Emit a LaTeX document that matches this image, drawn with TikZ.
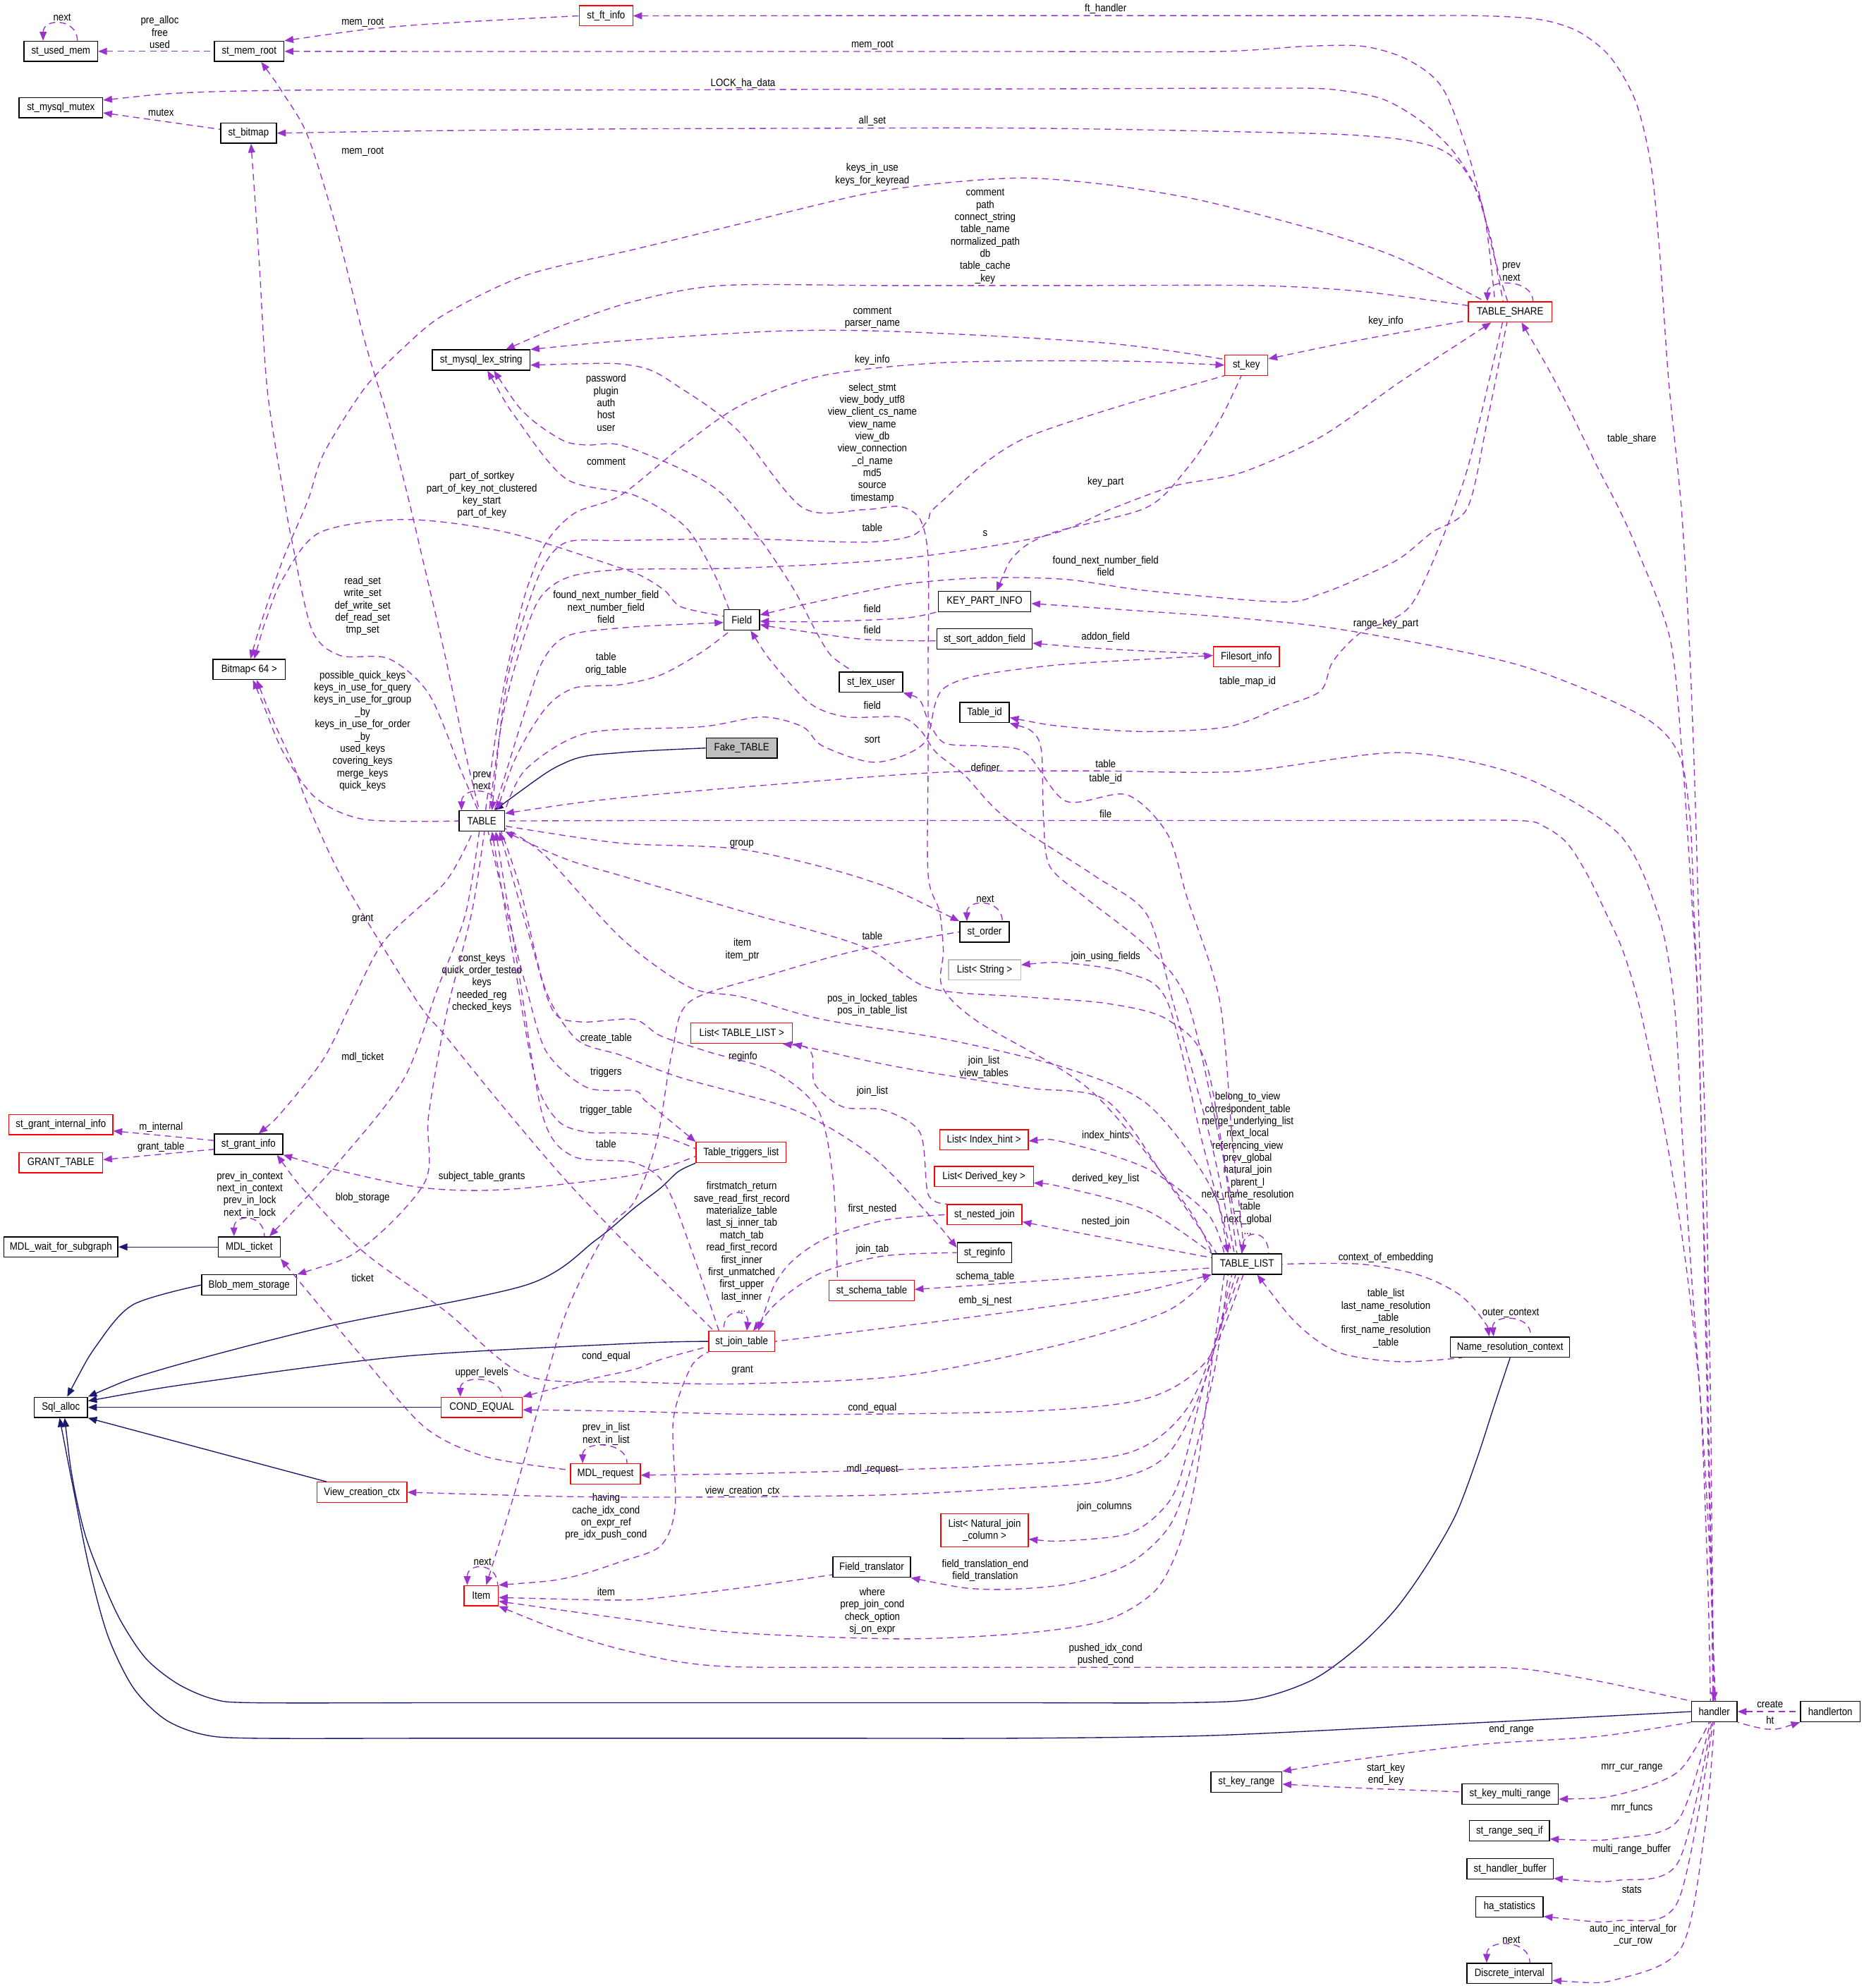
\documentclass[tikz,border=0pt]{standalone}
\usepackage{fontspec}
\setmainfont{Liberation Sans}[FakeStretch=0.88]
\usetikzlibrary{arrows.meta}
\definecolor{depc}{HTML}{9A32CD}
\definecolor{inhc}{HTML}{191970}
\definecolor{grayc}{HTML}{BFBFBF}
\newcommand\fs{\fontsize{8.4}{9.65}\selectfont}
\begin{document}
\begin{tikzpicture}[x=1pt,y=-1pt,
  box/.style={draw=black,line width=0.8pt,rectangle,minimum height=16pt,inner sep=0pt,font=\fs},
  rbox/.style={box,draw=red,line width=0.7pt},
  gbox/.style={box,draw=grayc},
  lbl/.style={font=\fs,align=center,inner sep=0pt},
  dep/.style={draw=depc,dash pattern=on 5pt off 3.5pt,line width=0.75pt,{Triangle[length=7pt,width=5.5pt]}-},
  inh/.style={draw=inhc,line width=0.75pt,{Triangle[length=7pt,width=5.5pt]}-},
]
\fill[white] (0,0) rectangle (1470,1568);
\useasboundingbox (0,0) rectangle (1470,1568);

% ---------------- nodes ----------------
\node[box, minimum width=58pt] (usedmem) at (48,40.5) {st\_used\_mem};
\node[box, minimum width=55pt] (memroot) at (196.5,40.5) {st\_mem\_root};
\node[rbox, minimum width=42pt] (ftinfo) at (478,12.5) {st\_ft\_info};
\node[box, minimum width=66pt] (mutex) at (48,85) {st\_mysql\_mutex};
\node[box, minimum width=44pt] (bitmap) at (196,105) {st\_bitmap};
\node[box, minimum width=77pt] (lexstr) at (379.5,284) {st\_mysql\_lex\_string};
\node[rbox, minimum width=34pt] (stkey) at (983,288) {st\_key};
\node[rbox, minimum width=66pt] (share) at (1191,246) {TABLE\_SHARE};
\node[box, minimum width=57pt] (bitmap64) at (196.5,528) {Bitmap< 64 >};
\node[box, minimum width=73pt] (kpi) at (776.5,474.5) {KEY\_PART\_INFO};
\node[box, minimum width=28pt] (field) at (585,489) {Field};
\node[box, minimum width=75pt] (addon) at (776.5,504) {st\_sort\_addon\_field};
\node[rbox, minimum width=52pt] (filesort) at (983,518) {Filesort\_info};
\node[box, minimum width=50pt] (lexuser) at (687,538) {st\_lex\_user};
\node[box, minimum width=39pt] (tableid) at (776.5,562) {Table\_id};
\node[box, fill=grayc, minimum width=56pt] (fake) at (585,590) {Fake\_TABLE};
\node[box, minimum width=36pt] (table) at (380,647.5) {TABLE};
\node[box, minimum width=39pt] (order) at (776.5,735) {st\_order};
\node[gbox, minimum width=57pt] (liststr) at (776.5,765) {List< String >};
\node[rbox, minimum width=80pt] (listtl) at (585,815) {List< TABLE\_LIST >};
\node[rbox, minimum width=70pt] (listih) at (776,899) {List< Index\_hint >};
\node[rbox, minimum width=78pt] (listdk) at (776,928) {List< Derived\_key >};
\node[rbox, minimum width=59pt] (nested) at (776.5,958) {st\_nested\_join};
\node[box, minimum width=43pt] (reginfo) at (776.5,988) {st\_reginfo};
\node[rbox, minimum width=67pt] (schema) at (687.5,1018) {st\_schema\_table};
\node[rbox, minimum width=52pt] (jointab) at (585,1058) {st\_join\_table};
\node[box, minimum width=55pt] (tlist) at (983.5,997) {TABLE\_LIST};
\node[box, minimum width=54pt] (grant) at (196,902.5) {st\_grant\_info};
\node[rbox, minimum width=82pt] (grantint) at (48,887) {st\_grant\_internal\_info};
\node[rbox, minimum width=66pt] (granttab) at (48,917) {GRANT\_TABLE};
\node[rbox, minimum width=71pt] (trig) at (584.5,909) {Table\_triggers\_list};
\node[box, minimum width=90pt] (mdlwait) at (48,983.5) {MDL\_wait\_for\_subgraph};
\node[box, minimum width=49pt] (mdlticket) at (196.5,983.5) {MDL\_ticket};
\node[box, minimum width=75pt] (blob) at (196.5,1013.5) {Blob\_mem\_storage};
\node[box, minimum width=42pt] (sqlalloc) at (48,1110) {Sql\_alloc};
\node[rbox, minimum width=64pt] (condeq) at (380,1110) {COND\_EQUAL};
\node[rbox, minimum width=55pt] (mdlreq) at (477.5,1162.5) {MDL\_request};
\node[rbox, minimum width=71pt] (viewctx) at (285.5,1177) {View\_creation\_ctx};
\node[rbox, minimum width=69pt, minimum height=26pt, align=center] (listnj) at (776.5,1207) {List< Natural\_join\\\_column >};
\node[box, minimum width=61pt] (ftrans) at (687.5,1236) {Field\_translator};
\node[rbox, minimum width=27pt] (item) at (379.5,1258.5) {Item};
\node[box, minimum width=94pt] (nrc) at (1191,1062.5) {Name\_resolution\_context};
\node[box, minimum width=36pt] (handler) at (1352,1350) {handler};
\node[box, minimum width=47pt] (hton) at (1443.5,1350) {handlerton};
\node[box, minimum width=56pt] (keyrange) at (983,1405.5) {st\_key\_range};
\node[box, minimum width=76pt] (kmr) at (1191,1415) {st\_key\_multi\_range};
\node[box, minimum width=63pt] (rangeseq) at (1190.5,1444) {st\_range\_seq\_if};
\node[box, minimum width=68pt] (hbuf) at (1191,1474) {st\_handler\_buffer};
\node[box, minimum width=53pt] (hastats) at (1190.5,1504) {ha\_statistics};
\node[box, minimum width=67pt] (discrete) at (1190.5,1556.5) {Discrete\_interval};

% ---------------- labels ----------------
\node[lbl] (l1) at (49,13.5) {next};
\node[lbl] (l2) at (126,25.5) {pre\_alloc\\free\\used};
\node[lbl] (l3) at (286,17.6) {mem\_root};
\node[lbl] (l4) at (872,7) {ft\_handler};
\node[lbl] (l5) at (688,35.5) {mem\_root};
\node[lbl] (l6) at (586,66) {LOCK\_ha\_data};
\node[lbl] (l7) at (127,89) {mutex};
\node[lbl] (l8) at (688,95.2) {all\_set};
\node[lbl] (l9) at (286,119.5) {mem\_root};
\node[lbl] (l10) at (688,137.8) {keys\_in\_use\\keys\_for\_keyread};
\node[lbl] (l11) at (777,186.4) {comment\\path\\connect\_string\\table\_name\\normalized\_path\\db\\table\_cache\\\_key};
\node[lbl] (l12) at (1192,214.5) {prev\\next};
\node[lbl] (l13) at (688,250.8) {comment\\parser\_name};
\node[lbl] (l14) at (1093,253.3) {key\_info};
\node[lbl] (l15) at (688,284) {key\_info};
\node[lbl] (l16) at (478,317.7) {password\\plugin\\auth\\host\\user};
\node[lbl] (l17) at (688,349.5) {select\_stmt\\view\_body\_utf8\\view\_client\_cs\_name\\view\_name\\view\_db\\view\_connection\\\_cl\_name\\md5\\source\\timestamp};
\node[lbl] (l18) at (1287,346.5) {table\_share};
\node[lbl] (l19) at (478,364) {comment};
\node[lbl] (l20) at (380,390.5) {part\_of\_sortkey\\part\_of\_key\_not\_clustered\\key\_start\\part\_of\_key};
\node[lbl] (l21) at (872,380.5) {key\_part};
\node[lbl] (l22) at (688,416) {table};
\node[lbl] (l23) at (777,421) {s};
\node[lbl] (l24) at (872,446.4) {found\_next\_number\_field\\field};
\node[lbl] (l25) at (286,478) {read\_set\\write\_set\\def\_write\_set\\def\_read\_set\\tmp\_set};
\node[lbl] (l26) at (478,478.7) {found\_next\_number\_field\\next\_number\_field\\field};
\node[lbl] (l27) at (688,480) {field};
\node[lbl] (l28) at (1093,492) {range\_key\_part};
\node[lbl] (l29) at (688,497) {field};
\node[lbl] (l30) at (872,502.4) {addon\_field};
\node[lbl] (l31) at (478,523.8) {table\\orig\_table};
\node[lbl] (l32) at (984,537.4) {table\_map\_id};
\node[lbl] (l33) at (688,556) {field};
\node[lbl] (l34) at (286,576.5) {possible\_quick\_keys\\keys\_in\_use\_for\_query\\keys\_in\_use\_for\_group\\\_by\\keys\_in\_use\_for\_order\\\_by\\used\_keys\\covering\_keys\\merge\_keys\\quick\_keys};
\node[lbl] (l35) at (688,583.4) {sort};
\node[lbl] (l36) at (872,602.5) {table};
\node[lbl] (l37) at (777,605) {definer};
\node[lbl] (l38) at (380,615.7) {prev\\next};
\node[lbl] (l39) at (872,614.3) {table\_id};
\node[lbl] (l40) at (872,642) {file};
\node[lbl] (l41) at (585,665.6) {group};
\node[lbl] (l42) at (777,708.8) {next};
\node[lbl] (l43) at (286,725) {grant};
\node[lbl] (l44) at (688,738) {table};
\node[lbl] (l45) at (585.5,749) {item\\item\_ptr};
\node[lbl] (l46) at (872,754.5) {join\_using\_fields};
\node[lbl] (l47) at (380,775.3) {const\_keys\\quick\_order\_tested\\keys\\needed\_reg\\checked\_keys};
\node[lbl] (l48) at (688,792.8) {pos\_in\_locked\_tables\\pos\_in\_table\_list};
\node[lbl] (l49) at (478,819) {create\_table};
\node[lbl] (l50) at (586,833.5) {reginfo};
\node[lbl] (l51) at (286,834.3) {mdl\_ticket};
\node[lbl] (l52) at (776,841.8) {join\_list\\view\_tables};
\node[lbl] (l53) at (478,845.8) {triggers};
\node[lbl] (l54) at (688,860.6) {join\_list};
\node[lbl] (l55) at (984,917.6) {belong\_to\_view\\correspondent\_table\\merge\_underlying\_list\\next\_local\\referencing\_view\\prev\_global\\natural\_join\\parent\_l\\next\_name\_resolution\\\_table\\next\_global\\...};
\node[lbl] (l56) at (478,875.6) {trigger\_table};
\node[lbl] (l57) at (127,889) {m\_internal};
\node[lbl] (l58) at (872,895.6) {index\_hints};
\node[lbl] (l59) at (478,902.4) {table};
\node[lbl] (l60) at (127,904.5) {grant\_table};
\node[lbl] (l61) at (380,928) {subject\_table\_grants};
\node[lbl] (l62) at (872,930) {derived\_key\_list};
\node[lbl] (l63) at (197,942.4) {prev\_in\_context\\next\_in\_context\\prev\_in\_lock\\next\_in\_lock};
\node[lbl] (l64) at (585,983.5) {firstmatch\_return\\save\_read\_first\_record\\materialize\_table\\last\_sj\_inner\_tab\\match\_tab\\read\_first\_record\\first\_inner\\first\_unmatched\\first\_upper\\last\_inner\\...};
\node[lbl] (l65) at (286,944.6) {blob\_storage};
\node[lbl] (l66) at (688,953.5) {first\_nested};
\node[lbl] (l67) at (872,963.7) {nested\_join};
\node[lbl] (l68) at (688,985.2) {join\_tab};
\node[lbl] (l69) at (1093,991.8) {context\_of\_embedding};
\node[lbl] (l70) at (777,1007) {schema\_table};
\node[lbl] (l71) at (286,1008) {ticket};
\node[lbl] (l72) at (777,1026) {emb\_sj\_nest};
\node[lbl] (l73) at (1191.5,1035.8) {outer\_context};
\node[lbl] (l74) at (1093,1039.9) {table\_list\\last\_name\_resolution\\\_table\\first\_name\_resolution\\\_table};
\node[lbl] (l75) at (478,1069.7) {cond\_equal};
\node[lbl] (l76) at (585.5,1081) {grant};
\node[lbl] (l77) at (380,1083) {upper\_levels};
\node[lbl] (l78) at (688,1110.6) {cond\_equal};
\node[lbl] (l79) at (478,1131) {prev\_in\_list\\next\_in\_list};
\node[lbl] (l80) at (688,1158.8) {mdl\_request};
\node[lbl] (l81) at (585.5,1176) {view\_creation\_ctx};
\node[lbl] (l82) at (478,1196.4) {having\\cache\_idx\_cond\\on\_expr\_ref\\pre\_idx\_push\_cond};
\node[lbl] (l83) at (871,1188.4) {join\_columns};
\node[lbl] (l84) at (380.6,1232) {next};
\node[lbl] (l85) at (777,1238.6) {field\_translation\_end\\field\_translation};
\node[lbl] (l86) at (478,1255.3) {item};
\node[lbl] (l87) at (688,1270.7) {where\\prep\_join\_cond\\check\_option\\sj\_on\_expr};
\node[lbl] (l88) at (872,1304.8) {pushed\_idx\_cond\\pushed\_cond};
\node[lbl] (l89) at (1396,1344) {create};
\node[lbl] (l90) at (1396,1356.7) {ht};
\node[lbl] (l91) at (1192,1364) {end\_range};
\node[lbl] (l92) at (1093,1399.5) {start\_key\\end\_key};
\node[lbl] (l93) at (1287,1394.7) {mrr\_cur\_range};
\node[lbl] (l94) at (1287,1425.8) {mrr\_funcs};
\node[lbl] (l95) at (1287,1458.5) {multi\_range\_buffer};
\node[lbl] (l96) at (1287,1490.4) {stats};
\node[lbl] (l97) at (1288,1526.4) {auto\_inc\_interval\_for\\\_cur\_row};
\node[lbl] (l98) at (1192,1530) {next};

% ---------------- self loops ----------------
\draw[dep] ([xshift=-14]usedmem.north) .. controls +(0,-18) and +(0,-18) .. ([xshift=13]usedmem.north);
\draw[dep] ([xshift=-18]share.north) .. controls +(0,-18) and +(0,-18) .. ([xshift=18]share.north);
\draw[dep] ([xshift=-16]table.north) .. controls +(0,-19) and +(0,-19) .. ([xshift=14]table.north);
\draw[dep] ([xshift=-14]order.north) .. controls +(0,-18) and +(0,-18) .. ([xshift=14]order.north);
\draw[dep] ([xshift=-12]mdlticket.north) .. controls +(0,-18) and +(0,-18) .. ([xshift=12]mdlticket.north);
\draw[dep] ([xshift=-17]condeq.north) .. controls +(0,-17) and +(0,-17) .. ([xshift=16]condeq.north);
\draw[dep] ([xshift=-18]mdlreq.north) .. controls +(0,-18) and +(0,-18) .. ([xshift=17]mdlreq.north);
\draw[dep] ([xshift=-11]item.north) .. controls +(0,-18) and +(0,-18) .. ([xshift=13]item.north);
\draw[dep] ([xshift=4]jointab.north) .. controls +(2,-18) and +(-2,-18) .. ([xshift=-14]jointab.north);
\draw[dep] ([xshift=-4]tlist.north) .. controls +(2,-19) and +(0,-19) .. ([xshift=17]tlist.north);
\draw[dep] ([xshift=-13]nrc.north) .. controls +(-2,-18) and +(2,-18) .. ([xshift=16]nrc.north);
\draw[dep] ([xshift=-18]discrete.north) .. controls +(0,-19) and +(0,-19) .. ([xshift=16]discrete.north);

% ---------------- inheritance ----------------
\draw[inh] plot[smooth,tension=.5] coordinates {([xshift=10]table.north) (447,601) (489.4,593.6) (fake.west)};
\draw[inh] (mdlwait) -- (mdlticket);
\draw[inh] plot[smooth,tension=.5] coordinates {([xshift=5]sqlalloc.north) (77,1060) (105,1029) (blob.west)};
\draw[inh] plot[smooth,tension=.5] coordinates {(sqlalloc.north east) (127.7,1080) (255.4,1046.7) (415,1013.5) (470,978) (500,953) (521,937) (535,924) (trig.south west)};
\draw[inh] plot[smooth,tension=.5] coordinates {([yshift=5]sqlalloc.east) (159.6,1090) (319,1069.7) (500.6,1059.5) (jointab.west)};
\draw[inh] (sqlalloc) -- (condeq);
\draw[inh] (sqlalloc.south east) -- ([xshift=-28]viewctx.north);
\draw[inh] plot[smooth,tension=.5] coordinates {([xshift=3]sqlalloc.south) (57.5,1168) (67,1210) (80,1245) (95,1278) (115,1308) (140,1328) (168,1340) (200,1343) (350,1343) (500,1343) (650,1343) (800,1343) (930,1343) (990,1340) (1035,1325) (1070,1300) (1100,1270) (1125,1235) (1148,1195) (1165,1150) (1178,1110) (nrc.south)};
\draw[inh] plot[smooth,tension=.5] coordinates {([xshift=-1]sqlalloc.south) (58,1175) (70,1235) (85,1290) (105,1331) (130,1356) (160,1368) (200,1371) (350,1371) (500,1371) (650,1371) (800,1371) (950,1369) (1100,1362) (1220,1356) (handler.west)};

% ---------------- collaboration (dashed) ----------------
\draw[dep] (usedmem) -- (memroot);
\draw[dep] plot[smooth,tension=.5] coordinates {(memroot.north east) (319,20.4) (ftinfo.west)};
\draw[dep] plot[smooth,tension=.5] coordinates {(memroot.east) (400,40.6) (600,40.6) (800,40.6) (960,40.6) (1030,36.5) (1075,36.5) (1110,47) (1138,70) (1160,128) (1179,204.3) ([xshift=-2]share.north)};
\draw[dep] plot[smooth,tension=.5] coordinates {(ftinfo.east) (700,12.3) (900,12.3) (1100,12.3) (1170,12.5) (1215,15.5) (1245,25) (1270,45) (1290,80) (1302,130) (1309,200) (1316,300) (1326,400) (1332,500) (1336,600) (1339,700) (1342,800) (1345,900) (1347,1000) (1349,1100) (1350,1200) (1351,1290) ([xshift=-1]handler.north)};
\draw[dep] plot[smooth,tension=.5] coordinates {([yshift=6]mutex.east) (150,73) (250,71) (450,71) (650,70.5) (850,70) (1000,69.5) (1050,70.5) (1090,78) (1120,95) (1145,118) (1162,145) (1175,185) (1181,215) ([xshift=-5.5]share.north)};
\draw[dep] ([yshift=-4]mutex.east) -- ([yshift=3]bitmap.west);
\draw[dep] plot[smooth,tension=.5] coordinates {(bitmap.east) (319,103.4) (420,102.3) (500.6,101.6) (640,101.2) (776.8,100.9) (880,102) (990,104.2) (1057.2,106) (1104,109.8) (1135.5,117.5) (1154.3,132.8) (1170,166) ([xshift=-12]share.north)};
\draw[dep] plot[smooth,tension=.5] coordinates {([xshift=9.5]memroot.south) (223.5,74) (242.7,107.3) (265,178.8) (287.4,268) (306.5,332) (322.5,395) (332,435.3) (351,517) (367,593.6) ([xshift=-2]table.north)};
\draw[dep] plot[smooth,tension=.5] coordinates {([xshift=1]bitmap64.north) (207.5,486.3) (223.5,440.4) (242.7,395) (255.4,357.5) (287.4,306.4) (319.3,273.2) (351,247.7) (415,217) (500.6,196.6) (585.2,176.2) (681,153.2) (744.8,144.3) (808.7,140.4) (872.6,145.6) (936.5,155.8) (990.1,168.5) (1050,185) (1104,204) ([xshift=-20]share.north)};
\draw[dep] plot[smooth,tension=.5] coordinates {([xshift=19.5]lexstr.north) (447,255.4) (500.6,237.5) (569.2,225.2) (700,225.2) (850,225.2) (990,225.2) (1072.9,229.8) ([yshift=5]share.west)};
\draw[dep] plot[smooth,tension=.5] coordinates {(lexstr.north east) (500.6,268.1) (617.1,261) (712.9,261.7) (872.6,270.6) ([yshift=4.6]stkey.west)};
\draw[dep] plot[smooth,tension=.5] coordinates {(stkey.west) (872.6,284.7) (744.8,286) (649,296.2) (585.2,319.2) (537.3,352.4) (489.4,390.7) (453.4,404.6) (431,427.6) (415,466) (402.3,517) (392.7,568) ([xshift=3]table.north)};
\draw[dep] plot[smooth,tension=.5] coordinates {([yshift=5]stkey.east) (1072.9,268.1) ([yshift=-6.8]share.west)};
\draw[dep] plot[smooth,tension=.5] coordinates {([xshift=-15]share.south) (1151,270.7) (1104,301.3) (1041.5,344.7) (978.9,372.8) (927,383) (879,400.4) (824.6,422.5) (713,440.4) (585.2,448) (489.4,449.3) (447,455.7) (424.6,473.6) (408.7,517) (396,568) ([xshift=6]table.north)};
\draw[dep] plot[smooth,tension=.5] coordinates {([xshift=9.5]kpi.north) (802,436.2) (830.8,420) (904,400.4) (935.8,370) (961.4,332.4) ([xshift=-4]stkey.south)};
\draw[dep] plot[smooth,tension=.5] coordinates {([xshift=8]table.north) (399,542.5) (411.8,491.4) (427.8,448) (447,427.6) (489.4,426.3) (585.2,425) (681,427.6) (719.3,422.5) (732,409.7) (740,398) (808.7,345.4) (stkey.south west)};
\draw[dep] plot[smooth,tension=.5] coordinates {([xshift=10]lexstr.south) (415,327) (443.8,347.3) (463,351) (489.4,351) (537.3,370) (569.2,389.3) (601.2,427.6) (626.7,466) (642.7,496.5) (655.4,517) ([xshift=-14]lexuser.north)};
\draw[dep] plot[smooth,tension=.5] coordinates {([xshift=5]lexstr.south) (408.7,332) (447,378) (500.6,390.7) (540,415) (562,450) ([xshift=-10]field.north)};
\draw[dep] plot[smooth,tension=.5] coordinates {([yshift=-4]lexstr.east) (500.6,288.6) (537.3,306.4) (582,339.6) (633,400.4) (681,402) (709.7,399.5) (725.7,409.7) (732,440.4) (732,520) (732,600) (732,690) (741,719) (744,750) (743,778) (770,805) (860,860) (935,950) (tlist.north west)};
\draw[dep] plot[smooth,tension=.5] coordinates {([xshift=4]bitmap64.north) (210.7,486.3) (223.5,455.7) (252.2,420) (319.3,409.7) (400,420) (489.4,448) (508.6,455.7) (524.5,466) (537.3,478.7) ([yshift=3]field.west)};
\draw[dep] plot[smooth,tension=.5] coordinates {([xshift=2]bitmap.south) (204.3,204.3) (210.7,306.4) (223.5,389.3) (229.9,425) (245.9,496.5) (268.2,517) (306.5,519.5) (338.4,547.6) (364,608.9) ([xshift=-3]table.north)};
\draw[dep] plot[smooth,tension=.5] coordinates {([xshift=3]bitmap64.south) (207.5,555.3) (223.5,593.6) (249,629.3) (287.4,646.3) (table.west)};
\draw[dep] plot[smooth,tension=.5] coordinates {([xshift=6]bitmap64.south) (214,565) (232,605) (242.7,634.4) (271.4,695.7) (328.9,789.7) (351.2,816.9) (399,875.6) (447,931.8) (500.6,988) (521.3,1008.4) ([xshift=-22]jointab.north)};
\draw[dep] plot[smooth,tension=.5] coordinates {([xshift=8]grant.north) (223.5,875.6) (255.4,834.8) (277.8,789.7) (303.3,741.7) (351.2,695.7) ([xshift=-7]table.south)};
\draw[dep] plot[smooth,tension=.5] coordinates {([xshift=16]mdlticket.north) (271.4,911.4) (319,850) (345,780) (367,721.3) ([xshift=-2]table.south)};
\draw[dep] plot[smooth,tension=.5] coordinates {(blob.north east) (287.4,982.9) (335.3,931.8) (338,880) (352,800) (372,720) ([xshift=2]table.south)};
\draw[dep] ([yshift=-5]grantint.east) -- ([yshift=3]grant.west);
\draw[dep] ([yshift=2.3]granttab.east) -- ([yshift=-4]grant.west);
\draw[dep] plot[smooth,tension=.5] coordinates {(grant.south east) (271.4,924.2) (335.3,937) (399,938.2) (500.6,926.7) ([yshift=-3]trig.west)};
\draw[dep] plot[smooth,tension=.5] coordinates {(trig.north west) (524.5,880.7) (508.6,868) (500.6,860.3) (463,857.8) (431,829.7) (415,778.6) (400,720) ([xshift=5]table.south)};
\draw[dep] plot[smooth,tension=.5] coordinates {([xshift=8]table.south) (404,750) (422,850) (440,884) (463,893) (489.4,893.5) (521.3,896) ([yshift=3]trig.west)};
\draw[dep] plot[smooth,tension=.5] coordinates {([xshift=11]table.south) (408,760) (428,880) (452,912) (500,917) (525,935) (545,985) ([xshift=-18]jointab.north)};
\draw[dep] plot[smooth,tension=.5] coordinates {([xshift=14]table.south) (418,740) (436,797) (458,806) (500,804) (521,817) (560,830) (610,845) (645,875) (657,930) ([xshift=-27]schema.north)};
\draw[dep] plot[smooth,tension=.5] coordinates {([yshift=4]reginfo.west) (732,957.4) (687.3,911.4) (626.7,875.6) (537.3,850.1) (489.4,832.2) (455,820) (430,780) (410,700) ([xshift=-3]table.south east)};
\draw[dep] plot[smooth,tension=.5] coordinates {(order.north west) (681,693.2) (585.2,670) (489.4,665) ([yshift=-4]table.east)};
\draw[dep] plot[smooth,tension=.5] coordinates {([xshift=4]item.north) (408.7,1168) (424.6,1110.6) (447,1034) (479,970.1) (500.6,947.1) (518,900) (530,830) (544,790) (610,768) (677.7,749.3) (order.west)};
\draw[dep] plot[smooth,tension=.5] coordinates {(item.north east) (447,1244.6) (489.4,1231.8) (521.3,1219) (532.5,1188.4) (531,1120) (545,1078) (jointab.south west)};
\draw[dep] plot[smooth,tension=.5] coordinates {([yshift=-1.5]item.east) (489.4,1262) (521.3,1260) (585.2,1252.3) ([yshift=-6]ftrans.west)};
\draw[dep] plot[smooth,tension=.5] coordinates {([yshift=-4.5]item.east) (500.6,1277.8) (585.2,1288) (713,1292.6) (808.7,1288) (872.6,1277.8) (910.9,1254.8) (930,1219) (942.8,1168) (955,1080) ([xshift=-18]tlist.south)};
\draw[dep] plot[smooth,tension=.5] coordinates {(item.south east) (447,1288) (489.4,1300.8) (537.3,1311) (585.2,1314.8) (700,1315) (850,1315) (1000,1315) (1130,1315) (1198,1316) (1260.8,1326) (handler.north west)};
\draw[dep] plot[smooth,tension=.5] coordinates {(viewctx.east) (489.4,1180.8) (681,1179.5) (780,1175) (872.6,1168) (920,1148) (950,1090) ([xshift=-12]tlist.south)};
\draw[dep] plot[smooth,tension=.5] coordinates {([yshift=-1]mdlreq.east) (617.1,1161.6) (776.8,1156.5) (888.5,1146.3) (936.4,1110.6) (965,1040) ([xshift=-6]tlist.south)};
\draw[dep] plot[smooth,tension=.5] coordinates {([yshift=-2]condeq.east) (489.4,1113) (617.1,1115.7) (808.7,1113.1) (904.5,1102.9) (952.4,1072.2) ([xshift=-3]tlist.south)};
\draw[dep] plot[smooth,tension=.5] coordinates {(condeq.north east) (466.2,1087.6) (500.6,1080) (521.3,1072.2) ([yshift=-4]jointab.west)};
\draw[dep] plot[smooth,tension=.5] coordinates {([xshift=-5]grant.south east) (242.7,942) (287.4,988) (351.2,1034) (415,1084.9) (500.6,1090) (585.2,1091.4) (713,1085) (840.6,1059.5) (920.5,1034) (tlist.south west)};
\draw[dep] plot[smooth,tension=.5] coordinates {([yshift=-1]mdlticket.south east) (255.4,1034) (287.4,1072.2) (335.3,1126) (383.2,1149) ([yshift=3]mdlreq.west)};
\draw[dep] plot[smooth,tension=.5] coordinates {(tlist.south west) (872.6,1023.7) (744.8,1041.6) (jointab.east)};
\draw[dep] plot[smooth,tension=.5] coordinates {([yshift=1]schema.east) (808.7,1011) ([yshift=-3]tlist.west)};
\draw[dep] plot[smooth,tension=.5] coordinates {([xshift=13]jointab.north) (617.1,1003.3) (649,977.8) (697,962.5) (nested.west)};
\draw[dep] plot[smooth,tension=.5] coordinates {([xshift=9]jointab.north) (617.1,1023.7) (649,1003.3) (697,990.6) (reginfo.west)};
\draw[dep] plot[smooth,tension=.5] coordinates {(listtl.south east) (713,842.4) (808.7,857.8) (872.6,868) (920.5,931.8) ([xshift=-24]tlist.north)};
\draw[dep] plot[smooth,tension=.5] coordinates {([xshift=-8]listtl.south east) (639.5,829.7) (642.7,855.2) (665,873.1) (697,875.6) (725.7,893.5) (732,942) (nested.north west)};
\draw[dep] plot[smooth,tension=.5] coordinates {([xshift=-15]tlist.north) (952.4,931.8) (904.5,870.5) (840.6,842.4) (744.8,819.5) (649,804.1) (585.2,786.3) (543.7,778.6) (490,740) (430,675) ([yshift=-6]table.east)};
\draw[dep] plot[smooth,tension=.5] coordinates {(table.south east) (447,677.8) (489.4,690.6) (585.2,718.7) (681,746.8) (732,779) (808.7,786.3) (872.6,791.4) (920.5,804.1) (952.4,842.4) ([xshift=-8]tlist.north)};
\draw[dep] plot[smooth,tension=.5] coordinates {([yshift=6]table.east) (489.4,629.3) (620,618) (744.8,609) (860,608) (978.9,608.4) (1104,593.6) (1198,611.5) (1276.4,657.4) (1307.7,721.3) (1320.3,789.7) (1327,900) (1335,1020) (1342,1120) (1347,1250) ([xshift=-3]handler.north)};
\draw[dep] plot[smooth,tension=.5] coordinates {(handler.north) (1350,1260) (1346,1180) (1340,1090) (1330,1000) (1318,920) (1305,850) (1292,790) (1280,750) (1267,721) (1252,690) (1236,665) (1218,652) (1198,647.2) (1100,647.2) (950,647.2) (800,647.2) (650,647.2) (500,647.2) (table.east)};
\draw[dep] plot[smooth,tension=.5] coordinates {(tableid.south east) (815,578) (821.5,593.6) (823,644.7) (827.8,683) (856.6,708.5) (904.5,746.8) (936.4,789.7) (962,900) ([xshift=-4]tlist.north)};
\draw[dep] plot[smooth,tension=.5] coordinates {([yshift=-4]tableid.east) (840.6,573.2) (904.5,577) (968.4,573.2) (1010.2,557.8) (1041.5,545) (1051,522.1) (1072.9,499.1) (1113.6,476.1) (1151,389.3) (1166.8,332) ([xshift=-6]share.south)};
\draw[dep] plot[smooth,tension=.5] coordinates {([yshift=1]filesort.west) (808.7,527.2) (744.8,542.5) (728.9,586) (690.5,601.2) (649,588.5) (633,573.2) (601.2,565.5) (553.3,573.2) (463,578.2) (415,606.4) (table.north east)};
\draw[dep] plot[smooth,tension=.5] coordinates {([yshift=-3.3]addon.east) (872.6,511.8) ([yshift=2]filesort.west)};
\draw[dep] plot[smooth,tension=.5] coordinates {([yshift=-3.7]field.east) (623.5,496.5) (681,504.2) ([yshift=-1.5]addon.west)};
\draw[dep] plot[smooth,tension=.5] coordinates {([yshift=-1]field.east) (649,490.2) (712.9,487.6) ([yshift=-8]kpi.west)};
\draw[dep] plot[smooth,tension=.5] coordinates {([yshift=4]field.east) (649,473.6) (713,460.8) (776.8,455.7) (840.6,457) (904.5,465.9) (1010,474.8) (1041.5,468.4) (1072.9,455.7) (1104,440.4) (1129.2,420) (1157.4,400.4) (1173,332) ([xshift=-2.5]share.south)};
\draw[dep] plot[smooth,tension=.5] coordinates {([yshift=-2]field.west) (489.4,495.3) (447,501.7) (427.8,521.8) (411.8,568) ([xshift=10]table.north)};
\draw[dep] plot[smooth,tension=.5] coordinates {([xshift=12]table.north) (408.7,593.6) (431,557.8) (453.4,542.5) (489.4,540) (521.3,532.3) (553.3,514.4) ([xshift=-9]field.south)};
\draw[dep] plot[smooth,tension=.5] coordinates {(lexuser.south east) (725.7,552.7) (732,568) (744.8,586) (776.8,588.5) (808.7,593.6) (840.6,631.9) (888.5,626.8) (920.5,657.4) (936.4,708.5) (962,789.7) (972,900) ([xshift=-2]tlist.north)};
\draw[dep] plot[smooth,tension=.5] coordinates {([xshift=7]field.south) (610.7,524.6) (639.5,555.3) (668.2,565.5) (709.7,565.5) (725.7,575.7) (738.4,593.6) (760.8,611.5) (792.7,644.7) (863,690.6) (904.5,721.3) (925,790) (955,900) ([xshift=-10]tlist.north)};
\draw[dep] plot[smooth,tension=.5] coordinates {([yshift=4]liststr.east) (840.6,759.6) (888.5,767.3) (920.5,789.7) (948,900) ([xshift=-12]tlist.north)};
\draw[dep] plot[smooth,tension=.5] coordinates {([yshift=-1]listih.east) (840.6,901.2) (904.5,921.6) (952.4,957.4) ([xshift=-18]tlist.north)};
\draw[dep] plot[smooth,tension=.5] coordinates {([yshift=-5]listdk.east) (840.6,936.9) (904.5,954.8) (tlist.north west)};
\draw[dep] plot[smooth,tension=.5] coordinates {([yshift=-5.7]nested.east) (872.6,976.5) ([yshift=5]tlist.west)};
\draw[dep] plot[smooth,tension=.5] coordinates {([yshift=-7]listnj.east) (840.6,1215.2) (888.5,1210.1) (914,1193.5) (930,1168) (950,1090) ([xshift=-9]tlist.south)};
\draw[dep] plot[smooth,tension=.5] coordinates {(ftrans.south east) (776.8,1253.5) (840.6,1249.7) (888.5,1234.4) (920.5,1206.3) (936.4,1168) (958,1080) ([xshift=-15]tlist.south)};
\draw[dep] plot[smooth,tension=.5] coordinates {([xshift=-16.5]nrc.north) (1170,1041.6) (1151.2,1021.2) (1119.8,1005.9) (1072.9,997) (tlist.east)};
\draw[dep] plot[smooth,tension=.5] coordinates {([xshift=8]tlist.south) (1025.9,1046.8) (1057.2,1067.2) (1104,1074) ([xshift=-38]nrc.south)};
\draw[dep] plot[smooth,tension=.5] coordinates {([xshift=9]share.south) (1229.4,306.4) (1260.8,370.2) (1276.4,400.4) (1292,435.3) (1317.2,504.2) (1326.5,593.6) (1333,690) (1339,789.7) (1342,900) (1345,1040) (1348,1180) (1350,1270) ([xshift=-1]handler.north)};
\draw[dep] plot[smooth,tension=.5] coordinates {([yshift=-1.5]kpi.east) (990,488.7) (1072.9,499) (1198,524.6) (1292,563) (1323.4,593.4) (1332.8,644.7) (1336,720) (1339,789.7) (1342,900) (1346,1050) (1349,1200) (1351,1290) ([xshift=1]handler.north)};
\draw[dep] plot[smooth,tension=.5] coordinates {(keyrange.north east) (1072.9,1387.4) (1166.8,1375.9) (1260.8,1369.5) (handler.south west)};
\draw[dep] plot[smooth,tension=.5] coordinates {([yshift=-1.7]keyrange.east) (1072.9,1410.3) ([yshift=1.7]kmr.west)};
\draw[dep] plot[smooth,tension=.5] coordinates {([yshift=-4]kmr.east) (1276.4,1415.4) (1323.4,1397.5) ([xshift=-4]handler.south)};
\draw[dep] plot[smooth,tension=.5] coordinates {([yshift=-6.5]rangeseq.east) (1276.4,1449.8) (1323.4,1435.8) ([xshift=-3]handler.south)};
\draw[dep] plot[smooth,tension=.5] coordinates {([yshift=-7.5]hbuf.east) (1276.4,1483) (1323.4,1469) ([xshift=-2]handler.south)};
\draw[dep] plot[smooth,tension=.5] coordinates {([yshift=-7.5]hastats.east) (1276.4,1514.8) (1323.4,1499.5) ([xshift=-1]handler.south)};
\draw[dep] plot[smooth,tension=.5] coordinates {([yshift=-5.5]discrete.east) (1276.4,1560.8) (1326.5,1535.2) (1345,1440) (handler.south)};
\draw[dep] (handler) -- (hton);
\draw[dep] plot[smooth,tension=.5] coordinates {(hton.south west) (1395.4,1363.9) (handler.south east)};
\end{tikzpicture}
\end{document}
